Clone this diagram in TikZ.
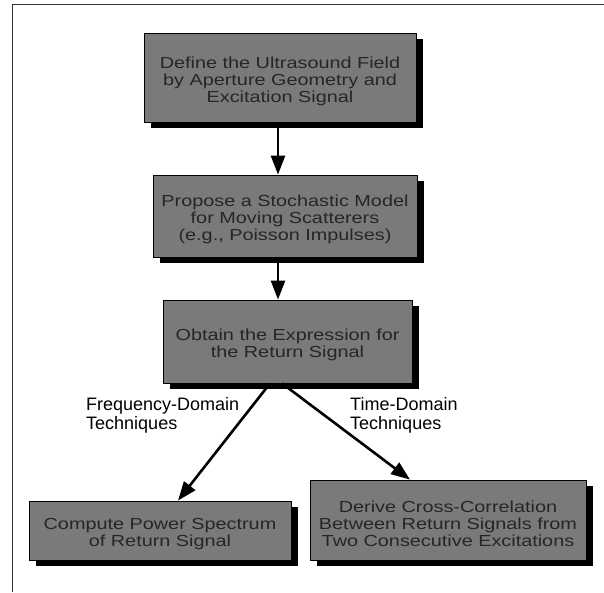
\documentclass[tikz,border=0pt]{standalone}
\usepackage{fontspec}
\setmainfont{Liberation Sans}
\newfontfamily\boxfont[FakeStretch=1.24]{Liberation Sans}
\usetikzlibrary{arrows.meta,backgrounds}
\newcommand\mytstrut{\rule{0pt}{18.5pt}}
\begin{document}
\begin{tikzpicture}[x=1pt,y=-1pt,
  stepbox/.style={draw=black, line width=0.8pt, fill=black!52, text=black!85,
    align=center, inner sep=0pt, font=\boxfont\fontsize{16}{17}\selectfont},
  shadowbox/.style={fill=black},
  arr/.style={line width=2.6pt, -{Triangle[length=19pt,width=14pt]}},
  lab/.style={align=left, font=\fontsize{18}{19.5}\selectfont, inner sep=0pt, anchor=north west},
  frameline/.style={line width=1pt, black!80}]
\useasboundingbox (0,0) rectangle (604,592);

\node[stepbox, minimum width=272pt, minimum height=89pt] (b1) at (280,77.5)
  {\mytstrut Define the Ultrasound Field\\by Aperture Geometry and\\Excitation Signal};
\node[stepbox, minimum width=264pt, minimum height=82pt] (b2) at (285,216)
  {\mytstrut Propose a Stochastic Model\\for Moving Scatterers\\(e.g., Poisson Impulses)};
\node[stepbox, minimum width=249pt, minimum height=83pt] (b3) at (287.5,341.5)
  {\mytstrut Obtain the Expression for\\the Return Signal};
\node[stepbox, minimum width=262pt, minimum height=59pt] (b4) at (160,530.5)
  {\mytstrut Compute Power Spectrum\\of Return Signal};
\node[stepbox, minimum width=276pt, minimum height=80pt] (b5) at (448,520)
  {\mytstrut Derive Cross-Correlation\\Between Return Signals from\\Two Consecutive Excitations};

\begin{scope}[on background layer]
  \fill[white] (0,0) rectangle (604,592);
  \foreach \b in {b1,b2,b3,b4,b5}
    \fill[shadowbox] ([shift={(7,6)}]\b.south west) rectangle ([shift={(7,6)}]\b.north east);
\end{scope}
\draw[frameline] (12,592) -- (12,4) -- (604,4);

\node[lab] (l1) at (86,397) {Frequency-Domain\\Techniques};
\node[lab] (l2) at (350,397) {Time-Domain\\Techniques};

\coordinate (ax) at (278,0);
\coordinate (sl) at (270,0);
\coordinate (sr) at (282,0);
\coordinate (el) at (178,0);
\coordinate (er) at (410,0);
\draw[arr] (b1.south -| ax) -- (b2.north -| ax);
\draw[arr] (b2.south -| ax) -- (b3.north -| ax);
\draw[arr] (b3.south -| sl) -- (b4.north -| el);
\draw[arr] (b3.south -| sr) -- (b5.north -| er);
\end{tikzpicture}
\end{document}
